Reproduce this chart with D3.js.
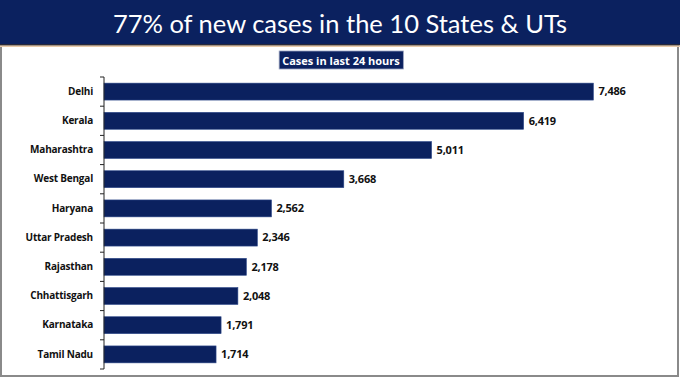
<!DOCTYPE html>
<html><head><meta charset="utf-8">
<script src="https://cdn.jsdelivr.net/npm/d3@7"></script>
<style>body{margin:0;background:#fff}svg{display:block}</style>
</head><body>
<script>
const titleText = "77% of new cases in the 10 States & UTs";
const subtitleText = "Cases in last 24 hours";
const states = ["Delhi","Kerala","Maharashtra","West Bengal","Haryana","Uttar Pradesh","Rajasthan","Chhattisgarh","Karnataka","Tamil Nadu"];
const cases = [7486,6419,5011,3668,2562,2346,2178,2048,1791,1714];

const W = 680, H = 383;
const svg = d3.select("body").append("svg").attr("width", W).attr("height", H);
const navy = "#0b215f";

// frame
svg.append("rect").attr("x",1).attr("y",45).attr("width",677).attr("height",331)
  .attr("fill","#fff").attr("stroke","#8a8a8a").attr("stroke-width",2);
// banner
svg.append("rect").attr("x",0).attr("y",0).attr("width",W).attr("height",45).attr("fill",navy);
svg.append("rect").attr("x",0).attr("y",44).attr("width",W).attr("height",1.5).attr("fill","#2a2a3a");
svg.append("rect").attr("x",0).attr("y",45.5).attr("width",W).attr("height",1.5).attr("fill","#e8c9a8");
svg.append("text").attr("x",W/2).attr("y",33).attr("text-anchor","middle")
  .attr("font-family","Lato, 'Open Sans', sans-serif").attr("font-size",25.5).attr("fill","#fff")
  .text(titleText);

// subtitle box
const sub = svg.append("g");
const subT = sub.append("text").attr("x",341).attr("y",65).attr("text-anchor","middle")
  .attr("font-family","'Open Sans', sans-serif").attr("font-weight","bold").attr("font-size",11)
  .attr("fill","#fff").text(subtitleText);
const bb = subT.node().getBBox();
sub.insert("rect","text").attr("x",bb.x-3).attr("y",51).attr("width",bb.width+6).attr("height",18)
  .attr("fill",navy).attr("stroke","#9aa3c0").attr("stroke-width",0.8);

const margin = {left:104, top:77, right:53, bottom:14};
const x = d3.scaleLinear().domain([0,8000]).range([margin.left, W - margin.right]);
const y = d3.scaleBand().domain(states).range([margin.top, 369]).paddingInner(0.42).paddingOuter(0.21);

// bars
svg.append("g").selectAll("rect").data(states).join("rect")
  .attr("x", x(0)).attr("y", d => y(d))
  .attr("width", (d,i) => x(cases[i]) - x(0)).attr("height", y.bandwidth())
  .attr("fill", navy).attr("stroke","#2f4a8a").attr("stroke-width",0.6);

// axis
const yAxis = d3.axisLeft(y).tickSize(0).tickPadding(11);
const ag = svg.append("g").attr("transform",`translate(${x(0)},0)`).call(yAxis);
ag.select(".domain").attr("stroke","#222").attr("stroke-width",1)
  .attr("d",`M0,${margin.top}V369`);
ag.selectAll("text").attr("font-family","'Open Sans', sans-serif").attr("font-weight","bold")
  .attr("font-size",10).attr("fill","#111").attr("letter-spacing",-0.2);
// tick marks between categories
const bounds = d3.range(states.length+1).map(i => margin.top + i*y.step());
ag.selectAll(".sep").data(bounds).join("line").attr("class","sep")
  .attr("x1",-4).attr("x2",0).attr("y1",d=>d).attr("y2",d=>d).attr("stroke","#222");

// value labels
svg.append("g").selectAll("text").data(states).join("text")
  .attr("x", (d,i) => x(cases[i]) + 5).attr("y", d => y(d) + y.bandwidth()/2)
  .attr("dy","0.35em").attr("font-family","'Open Sans', sans-serif").attr("font-weight","bold")
  .attr("font-size",11).attr("fill","#111").attr("letter-spacing",-0.2)
  .text((d,i) => d3.format(",")(cases[i]));
</script>
</body></html>
